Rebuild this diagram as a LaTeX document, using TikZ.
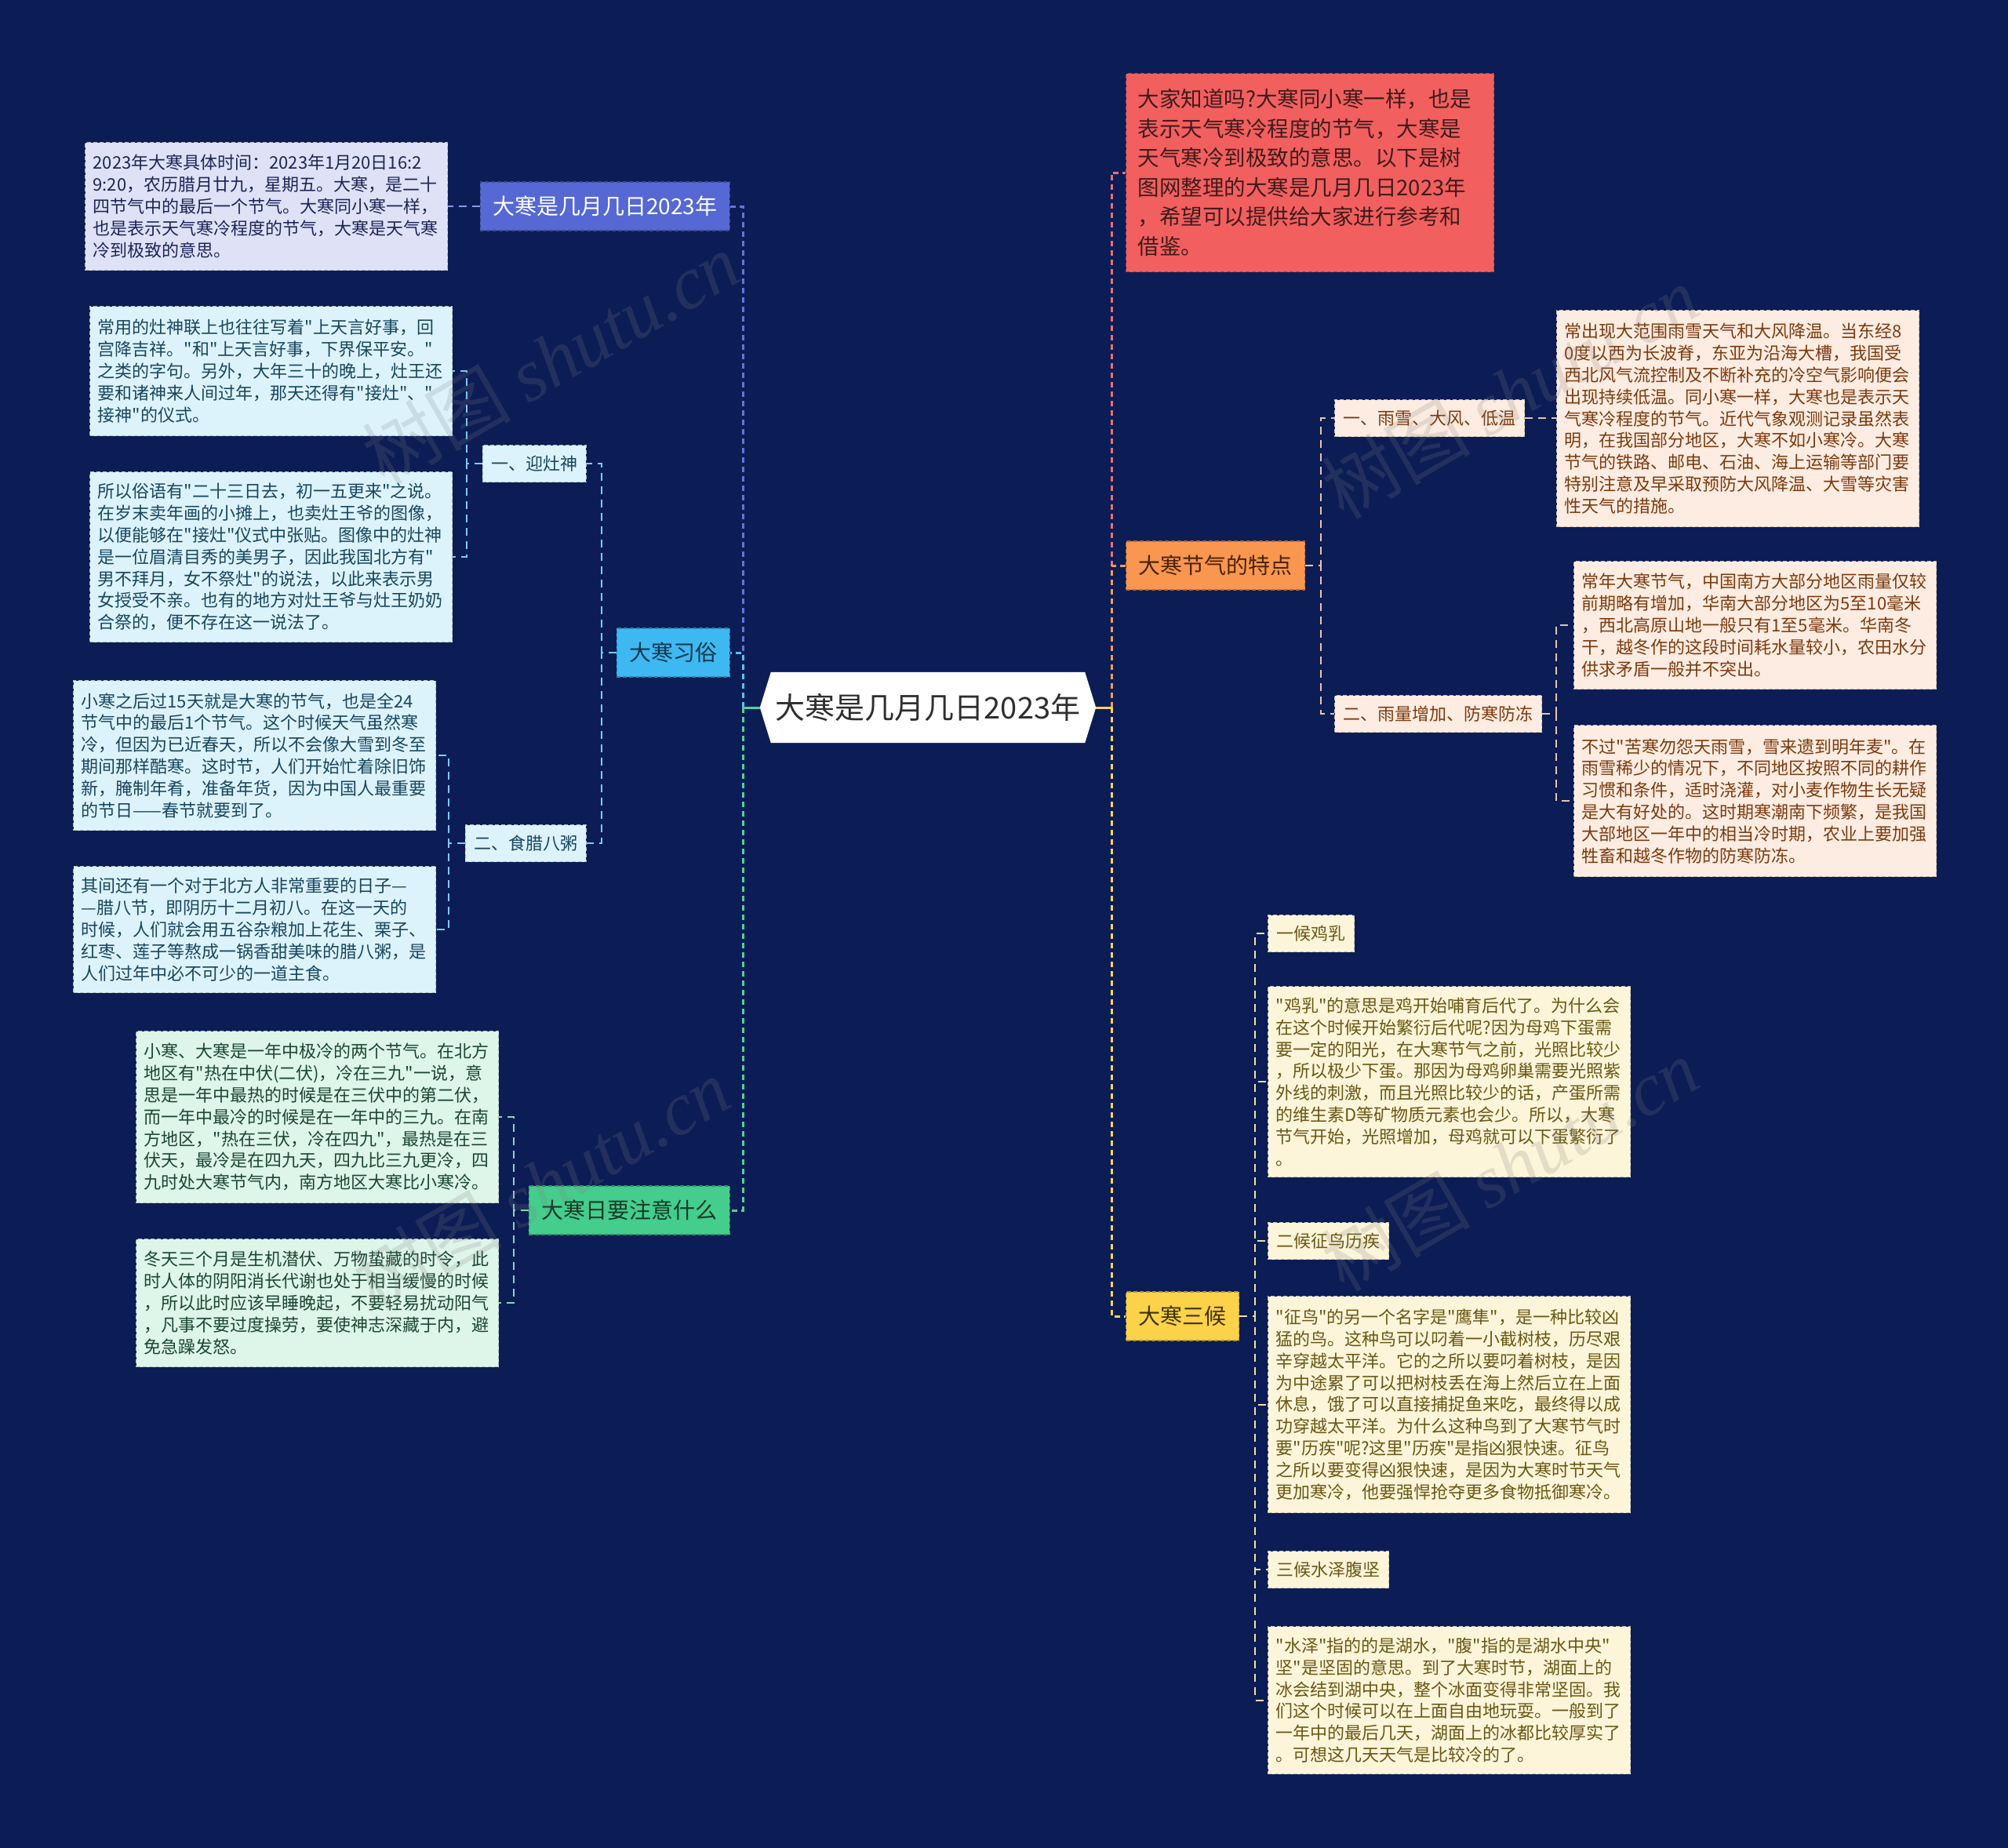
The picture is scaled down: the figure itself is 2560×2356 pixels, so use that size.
\documentclass[tikz,border=0pt]{standalone}
\usepackage{fontspec}
\newfontfamily\cjkf{Noto Sans CJK SC}
\newfontfamily\wmlat{Liberation Serif}
\definecolor{bgc}{HTML}{0C1D56}
\definecolor{cBlue}{HTML}{5568D3}
\definecolor{cBlueL}{HTML}{DFE2F7}
\definecolor{cBlueT}{HTML}{1C2557}
\definecolor{cSky}{HTML}{3EB8F1}
\definecolor{cSkyL}{HTML}{DDF3FC}
\definecolor{cSkyT}{HTML}{17465F}
\definecolor{cGreen}{HTML}{44CD8D}
\definecolor{cGreenL}{HTML}{DEF5EA}
\definecolor{cGreenT}{HTML}{1B4732}
\definecolor{cRed}{HTML}{F25F5F}
\definecolor{cRedT}{HTML}{3F1B1B}
\definecolor{cOrange}{HTML}{F9964F}
\definecolor{cOrangeL}{HTML}{FDECE1}
\definecolor{cOrangeT}{HTML}{7B3A0E}
\definecolor{cYellow}{HTML}{FBD249}
\definecolor{cYellowL}{HTML}{FCF5DA}
\definecolor{cYellowT}{HTML}{6A5713}
\definecolor{lnBlue}{HTML}{6274DA}
\definecolor{lnSky}{HTML}{5CC0F0}
\definecolor{lnGreen}{HTML}{52D197}
\definecolor{lnRed}{HTML}{EC6E6E}
\definecolor{lnOrange}{HTML}{F39A5B}
\definecolor{lnYellow}{HTML}{F7D35A}
\definecolor{snBlue}{HTML}{8C9AE4}
\definecolor{snSky}{HTML}{7CCBF2}
\definecolor{snGreen}{HTML}{7FDBB2}
\definecolor{snOrange}{HTML}{E9C4A8}
\definecolor{snYellow}{HTML}{F1E0A0}
\pgfdeclarelayer{bglayer}
\pgfdeclarelayer{midlayer}
\pgfsetlayers{bglayer,midlayer,main}
\tikzset{
  lf/.style={font=\cjkf\fontsize{22}{27.8}\selectfont},
  bx/.style={dash pattern=on 5pt off 3pt, line width=1.3pt},
  topic/.style={bx, font=\cjkf\fontsize{28}{34}\selectfont, inner xsep=16pt, inner ysep=0pt, minimum height=62pt},
  subnode/.style={bx, lf, inner xsep=11pt, inner ysep=0pt, minimum height=47pt},
  leaf/.style={bx, lf, inner xsep=10pt, inner ysep=0pt, text width=442pt, align=left, anchor=north west},
  trunk/.style={line width=3pt, dash pattern=on 7pt off 5pt},
  twig/.style={line width=2pt, dash pattern=on 10pt off 7pt},
  blueT/.style={topic, fill=cBlue, draw=cBlue!70!black, text=white},
  blueL/.style={leaf, fill=cBlueL, draw=cBlueL!55!gray, text=cBlueT},
  skyT/.style={topic, fill=cSky, draw=cSky!70!black, text=cSkyT!80!black},
  skyS/.style={subnode, fill=cSkyL, draw=cSkyL!55!gray, text=cSkyT},
  skyL/.style={leaf, fill=cSkyL, draw=cSkyL!55!gray, text=cSkyT},
  greenT/.style={topic, fill=cGreen, draw=cGreen!70!black, text=cGreenT!80!black},
  greenL/.style={leaf, fill=cGreenL, draw=cGreenL!55!gray, text=cGreenT},
  redT/.style={bx, fill=cRed, draw=cRed!70!black, text=cRedT, font=\cjkf\fontsize{27.5}{37.5}\selectfont, inner xsep=15pt, inner ysep=0pt, text width=439pt, align=left, anchor=north west},
  orangeT/.style={topic, fill=cOrange, draw=cOrange!70!black, text=cOrangeT!60!black},
  orangeS/.style={subnode, fill=cOrangeL, draw=cOrangeL!55!gray, text=cOrangeT},
  orangeL/.style={leaf, fill=cOrangeL, draw=cOrangeL!55!gray, text=cOrangeT},
  yellowT/.style={topic, fill=cYellow, draw=cYellow!70!black, text=cYellowT!60!black},
  yellowS/.style={subnode, fill=cYellowL, draw=cYellowL!55!gray, text=cYellowT},
  yellowL/.style={leaf, fill=cYellowL, draw=cYellowL!55!gray, text=cYellowT},
  wm/.style={font=\cjkf\fontsize{95}{95}\selectfont, text=gray, opacity=0.2, rotate=30}
}
\begin{document}
\begin{tikzpicture}[x=1pt,y=-1pt]
\begin{pgfonlayer}{bglayer}
\fill[bgc] (0,0) rectangle (2560,2356);
\end{pgfonlayer}
\useasboundingbox (0,0) rectangle (2560,2356);

% central node
\node[inner sep=0pt, minimum width=400pt, minimum height=90pt, font=\cjkf\fontsize{38}{44}\selectfont, text=black!82] (c) at (1183,902) {大寒是几月几日2023年};
\coordinate (cL) at ([xshift=-14pt]c.west);
\coordinate (cR) at ([xshift=14pt]c.east);
\begin{pgfonlayer}{midlayer}
\fill[white] (cL) -- (c.north west) -- (c.north east) -- (cR) -- (c.south east) -- (c.south west) -- cycle;
\end{pgfonlayer}
\coordinate (Lt) at (947,902);
\coordinate (Rt) at (1417,902);

% left side
\node[blueT, anchor=east] (t1) at (931,263) {大寒是几月几日2023年};
\node[blueL, minimum height=163pt] (a1) at (108,181) {2023年大寒具体时间：2023年1月20日16:2\\9:20，农历腊月廿九，星期五。大寒，是二十\\四节气中的最后一个节气。大寒同小寒一样，\\也是表示天气寒冷程度的节气，大寒是天气寒\\冷到极致的意思。};

\node[skyT, anchor=east] (t2) at (931,832) {大寒习俗};
\node[skyS, anchor=east] (s1) at (748,591) {一、迎灶神};
\node[skyL, minimum height=165pt] (b1) at (114,390) {常用的灶神联上也往往写着"上天言好事，回\\宫降吉祥。"和"上天言好事，下界保平安。"\\之类的字句。另外，大年三十的晚上，灶王还\\要和诸神来人间过年，那天还得有"接灶"、"\\接神"的仪式。};
\node[skyL, minimum height=217pt] (b2) at (114,601) {所以俗语有"二十三日去，初一五更来"之说。\\在岁末卖年画的小摊上，也卖灶王爷的图像，\\以便能够在"接灶"仪式中张贴。图像中的灶神\\是一位眉清目秀的美男子，因此我国北方有"\\男不拜月，女不祭灶"的说法，以此来表示男\\女授受不亲。也有的地方对灶王爷与灶王奶奶\\合祭的，便不存在这一说法了。};
\node[skyS, anchor=east] (s2) at (748,1075) {二、食腊八粥};
\node[skyL, minimum height=191pt] (b3) at (93,867) {小寒之后过15天就是大寒的节气，也是全24\\节气中的最后1个节气。这个时候天气虽然寒\\冷，但因为已近春天，所以不会像大雪到冬至\\期间那样酷寒。这时节，人们开始忙着除旧饰\\新，腌制年肴，准备年货，因为中国人最重要\\的节日——春节就要到了。};
\node[skyL, minimum height=161pt] (b4) at (93,1104) {其间还有一个对于北方人非常重要的日子—\\—腊八节，即阴历十二月初八。在这一天的\\时候，人们就会用五谷杂粮加上花生、栗子、\\红枣、莲子等熬成一锅香甜美味的腊八粥，是\\人们过年中必不可少的一道主食。};

\node[greenT, anchor=east] (t3) at (931,1543) {大寒日要注意什么};
\node[greenL, minimum height=219pt] (d1) at (173,1314) {小寒、大寒是一年中极冷的两个节气。在北方\\地区有"热在中伏(二伏)，冷在三九"一说，意\\思是一年中最热的时候是在三伏中的第二伏，\\而一年中最冷的时候是在一年中的三九。在南\\方地区，"热在三伏，冷在四九"，最热是在三\\伏天，最冷是在四九天，四九比三九更冷，四\\九时处大寒节气内，南方地区大寒比小寒冷。};
\node[greenL, minimum height=163pt] (d2) at (173,1579) {冬天三个月是生机潜伏、万物蛰藏的时令，此\\时人体的阴阳消长代谢也处于相当缓慢的时候\\，所以此时应该早睡晚起，不要轻易扰动阳气\\，凡事不要过度操劳，要使神志深藏于内，避\\免急躁发怒。};

% right side
\node[redT, minimum height=253pt] (r0) at (1435,93) {大家知道吗?大寒同小寒一样，也是\\表示天气寒冷程度的节气，大寒是\\天气寒冷到极致的意思。以下是树\\图网整理的大寒是几月几日2023年\\，希望可以提供给大家进行参考和\\借鉴。};

\node[orangeT, anchor=west] (t4) at (1435,721) {大寒节气的特点};
\node[orangeS, anchor=west] (s3) at (1701,533) {一、雨雪、大风、低温};
\node[orangeL, minimum height=276pt] (e1) at (1984,395) {常出现大范围雨雪天气和大风降温。当东经8\\0度以西为长波脊，东亚为沿海大槽，我国受\\西北风气流控制及不断补充的冷空气影响便会\\出现持续低温。同小寒一样，大寒也是表示天\\气寒冷程度的节气。近代气象观测记录虽然表\\明，在我国部分地区，大寒不如小寒冷。大寒\\节气的铁路、邮电、石油、海上运输等部门要\\特别注意及早采取预防大风降温、大雪等灾害\\性天气的措施。};
\node[orangeS, anchor=west] (s4) at (1701,910) {二、雨量增加、防寒防冻};
\node[orangeL, minimum height=163pt] (e2) at (2006,715) {常年大寒节气，中国南方大部分地区雨量仅较\\前期略有增加，华南大部分地区为5至10毫米\\，西北高原山地一般只有1至5毫米。华南冬\\干，越冬作的这段时间耗水量较小，农田水分\\供求矛盾一般并不突出。};
\node[orangeL, minimum height=193pt] (e3) at (2006,924) {不过"苦寒勿怨天雨雪，雪来遗到明年麦"。在\\雨雪稀少的情况下，不同地区按照不同的耕作\\习惯和条件，适时浇灌，对小麦作物生长无疑\\是大有好处的。这时期寒潮南下频繁，是我国\\大部地区一年中的相当冷时期，农业上要加强\\牲畜和越冬作物的防寒防冻。};

\node[yellowT, anchor=west] (t5) at (1435,1678) {大寒三候};
\node[yellowS, anchor=west] (y1) at (1616,1190) {一候鸡乳};
\node[yellowL, minimum height=243pt] (f1) at (1616,1257) {"鸡乳"的意思是鸡开始哺育后代了。为什么会\\在这个时候开始繁衍后代呢?因为母鸡下蛋需\\要一定的阳光，在大寒节气之前，光照比较少\\，所以极少下蛋。那因为母鸡卵巢需要光照紫\\外线的刺激，而且光照比较少的话，产蛋所需\\的维生素D等矿物质元素也会少。所以，大寒\\节气开始，光照增加，母鸡就可以下蛋繁衍了\\。};
\node[yellowS, anchor=west] (y2) at (1616,1582) {二候征鸟历疾};
\node[yellowL, minimum height=276pt] (f2) at (1616,1652) {"征鸟"的另一个名字是"鹰隼"，是一种比较凶\\猛的鸟。这种鸟可以叼着一小截树枝，历尽艰\\辛穿越太平洋。它的之所以要叼着树枝，是因\\为中途累了可以把树枝丢在海上然后立在上面\\休息，饿了可以直接捕捉鱼来吃，最终得以成\\功穿越太平洋。为什么这种鸟到了大寒节气时\\要"历疾"呢?这里"历疾"是指凶狠快速。征鸟\\之所以要变得凶狠快速，是因为大寒时节天气\\更加寒冷，他要强悍抢夺更多食物抵御寒冷。};
\node[yellowS, anchor=west] (y3) at (1616,2001) {三候水泽腹坚};
\node[yellowL, minimum height=188pt] (f3) at (1616,2073) {"水泽"指的的是湖水，"腹"指的是湖水中央"\\坚"是坚固的意思。到了大寒时节，湖面上的\\冰会结到湖中央，整个冰面变得非常坚固。我\\们这个时候可以在上面自由地玩耍。一般到了\\一年中的最后几天，湖面上的冰都比较厚实了\\。可想这几天天气是比较冷的了。};

% connectors
\begin{pgfonlayer}{midlayer}
\draw[trunk, lnBlue] (Lt) |- (t1.east);
\draw[trunk, lnSky] (Lt) |- (t2.east);
\draw[trunk, lnGreen] (Lt) |- (t3.east);
\draw[line width=3pt, lnGreen] (cL) -- (Lt);
\draw[trunk, lnRed] (Rt) |- (r0.west);
\draw[trunk, lnOrange] (Rt) |- (t4.west);
\draw[trunk, lnYellow] (Rt) |- (t5.west);
\draw[line width=3pt, lnYellow] (cR) -- (Rt);

\draw[twig, snBlue] (t1.west) -- (t1.west -| a1.east);
\draw[twig, snSky] (t2.west) -- ++(-19,0) |- (s1.east);
\draw[twig, snSky] (t2.west) -- ++(-19,0) |- (s2.east);
\draw[twig, snSky] (s1.west) -- ++(-20,0) |- (b1.east);
\draw[twig, snSky] (s1.west) -- ++(-20,0) |- (b2.east);
\draw[twig, snSky] (s2.west) -- ++(-21,0) |- (b3.east);
\draw[twig, snSky] (s2.west) -- ++(-21,0) |- (b4.east);
\draw[twig, snGreen] (t3.west) -- ++(-19,0) |- (d1.east);
\draw[twig, snGreen] (t3.west) -- ++(-19,0) |- (d2.east);

\draw[twig, snOrange] (t4.east) -- ++(20,0) |- (s3.west);
\draw[twig, snOrange] (t4.east) -- ++(20,0) |- (s4.west);
\draw[twig, snOrange] (s3.east) -- (s3.east -| e1.west);
\draw[twig, snOrange] (s4.east) -- ++(18,0) |- (e2.west);
\draw[twig, snOrange] (s4.east) -- ++(18,0) |- (e3.west);
\draw[twig, snYellow] (t5.east) -- ++(20,0) |- (y1.west);
\draw[twig, snYellow] (t5.east) -- ++(20,0) |- (f1.west);
\draw[twig, snYellow] (t5.east) -- ++(20,0) |- (y2.west);
\draw[twig, snYellow] (t5.east) -- ++(20,0) |- (f2.west);
\draw[twig, snYellow] (t5.east) -- ++(20,0) |- (y3.west);
\draw[twig, snYellow] (t5.east) -- ++(20,0) |- (f3.west);
\end{pgfonlayer}

% watermarks
\node[wm] (w1) at (702,457) {树图 {\wmlat\itshape shutu.cn}};
\node[wm] (w2) at (1925,500) {树图 {\wmlat\itshape shutu.cn}};
\node[wm] (w3) at (690,1510) {树图 {\wmlat\itshape shutu.cn}};
\node[wm] (w4) at (1925,1485) {树图 {\wmlat\itshape shutu.cn}};
\end{tikzpicture}
\end{document}
